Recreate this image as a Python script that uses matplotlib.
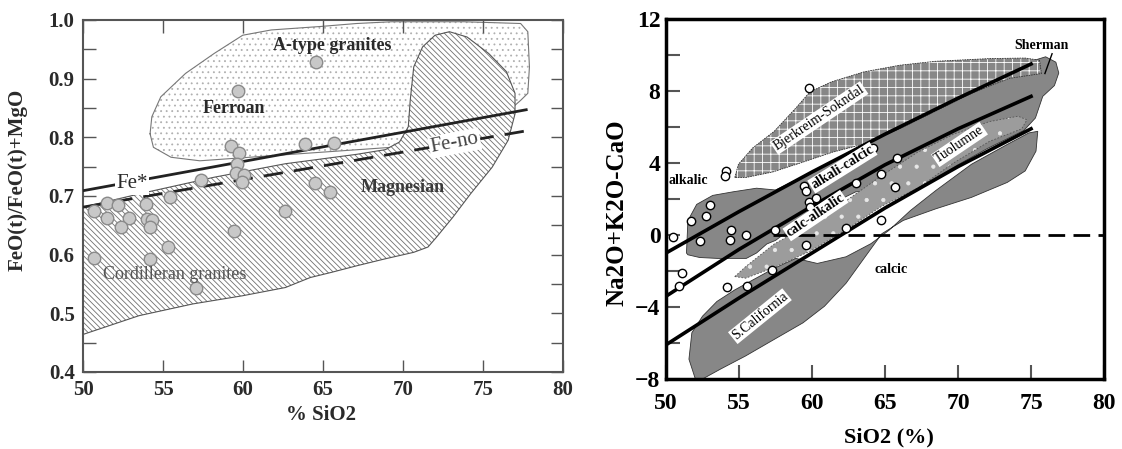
import numpy as np
import matplotlib.pyplot as plt
from matplotlib.patches import Polygon

plt.rcParams['font.family'] = ['Liberation Serif', 'DejaVu Serif']
plt.rcParams['hatch.linewidth'] = 0.6

BSL = chr(92)  # backslash, for the hatch pattern

# ---------------- left panel data (Fe-number diagram) ----------------
fe_star_x = [50, 77.7]
fe_star_y = [0.709, 0.847]
fe_no_x = [50, 77.7]
fe_no_y = [0.681, 0.811]

atype_x = [54.19, 54.3, 54.86, 56.41, 58.2, 59.98, 61.76, 64.88, 67.1, 69.3, 73.8, 77.35,
           77.8, 77.9, 77.8, 77.35, 73.8, 69.3, 60.4, 57.3, 55.5, 54.4]
atype_y = [0.806, 0.835, 0.869, 0.909, 0.943, 0.974, 0.983, 0.989, 0.994, 0.997, 0.997, 0.994,
           0.98, 0.92, 0.875, 0.863, 0.778, 0.783, 0.766, 0.76, 0.766, 0.783]

cord_x = [50, 53.74, 58.2, 62.65, 67.1, 68.9, 69.78, 70.33, 70.45, 70.67, 71.22, 72.0, 72.9,
          74.0, 75.35, 76.46, 77.0, 77.0, 76.57, 75.57, 74.23, 73.12, 72.1, 71.56, 70.67,
          68.9, 67.1, 65.55, 64.2, 62.65, 59.98, 56.86, 53.5, 50]
cord_y = [0.681, 0.705, 0.732, 0.755, 0.771, 0.779, 0.792, 0.818, 0.863, 0.920, 0.954, 0.974,
          0.98, 0.971, 0.943, 0.912, 0.875, 0.840, 0.795, 0.749, 0.704, 0.664, 0.630, 0.613,
          0.604, 0.593, 0.581, 0.570, 0.561, 0.544, 0.530, 0.516, 0.496, 0.464]

samp_sio2 = [64.54, 59.71, 59.27, 59.75, 59.64, 59.53, 60.09, 59.93, 63.88, 65.66, 57.35,
             55.41, 64.5, 65.43, 62.65, 59.42, 50.69, 51.47, 52.18, 51.47, 52.85, 52.4,
             53.92, 53.97, 54.3, 54.2, 55.3, 54.19, 50.67, 57.04]
samp_fe = [0.929, 0.879, 0.785, 0.773, 0.754, 0.739, 0.736, 0.724, 0.788, 0.790, 0.728,
           0.699, 0.722, 0.707, 0.674, 0.640, 0.674, 0.688, 0.685, 0.663, 0.663, 0.647,
           0.687, 0.661, 0.659, 0.647, 0.613, 0.593, 0.595, 0.544]

# ---------------- right panel data (MALI diagram) ----------------
mali_x = [50, 55, 60, 65, 70, 75]
alkalic_y = [-1.0, 1.3, 3.5, 5.6, 7.6, 9.5]
alkcalc_y = [-3.4, -0.8, 1.6, 3.9, 5.9, 7.7]
calcalk_y = [-6.1, -3.5, -1.0, 1.5, 3.8, 5.9]

bjerk_x = [54.71, 54.96, 55.94, 57.41, 58.89, 59.87, 61.34, 63.55, 66.0, 68.46, 72.15, 74.6,
           75.58, 75.71, 73.5, 71.0, 68.5, 66.0, 63.3, 61.4, 59.2, 57.3, 55.5]
bjerk_y = [3.19, 3.93, 4.84, 5.76, 7.05, 7.96, 8.51, 9.06, 9.43, 9.65, 9.80, 9.83,
           9.71, 8.97, 8.7, 7.9, 6.9, 5.9, 5.0, 4.6, 4.0, 3.5, 3.2]

sherman_x = [51.4, 51.5, 52.1, 53.2, 54.6, 56.2, 57.5, 60, 62, 64, 66, 68, 70, 72, 74, 75.2,
             76.0, 76.7, 76.9, 76.6, 75.8, 75.3, 74.5, 72, 70, 67.5, 65.5, 63, 60, 57.5,
             56.9, 56.2, 55.5, 53.5, 52.3, 51.5]
sherman_y = [-1.0, 0.8, 1.7, 2.2, 2.4, 2.6, 2.5, 3.5, 4.3, 5.2, 6.0, 6.8, 7.6, 8.4, 9.1, 9.7,
             9.9, 9.6, 9.0, 8.3, 7.7, 6.5, 5.8, 4.8, 3.9, 2.7, 2.5, 2.4, 1.2, -0.3,
             -0.5, -1.0, -1.3, -1.3, -1.25, -1.1]

tuol_x = [54.71, 55.45, 57.41, 59.87, 62.33, 64.78, 67.24, 69.69, 72.15, 74.11, 74.72,
          74.36, 72.15, 69.69, 67.24, 64.78, 62.33, 59.87, 57.41, 55.45]
tuol_y = [-2.31, -1.76, -0.5, 0.6, 1.9, 3.3, 4.6, 5.6, 6.3, 6.6, 6.4,
          5.9, 5.2, 4.0, 2.6, 1.6, 0.3, -0.9, -1.8, -2.4]

scal_x = [52.01, 51.57, 51.77, 52.5, 53.49, 54.71, 55.94, 57.41, 58.89, 60.36, 62.33, 64.04,
          65.27, 66.74, 68.46, 70.92, 73.37, 74.85, 75.46, 75.34, 74.6, 73.37, 70.92, 68.46,
          66.25, 64.78, 63.8, 62.33, 60.85, 59.38, 57.41, 55.45, 53.73, 52.5]
scal_y = [-8.0, -6.9, -5.43, -4.51, -3.69, -3.05, -2.5, -1.85, -1.3, -1.58, -1.21, -0.48,
          0.26, 1.36, 2.46, 3.93, 5.03, 5.67, 5.76, 4.66, 3.56, 2.92, 2.09, 1.45,
          0.81, 0.07, -1.03, -2.68, -3.96, -4.88, -5.8, -6.72, -7.45, -8.0]

mali_sio2 = [50.47, 51.72, 53.0, 52.75, 52.33, 54.47, 54.37, 55.5, 57.49, 54.1, 54.05, 59.8,
             59.45, 59.62, 59.8, 59.87, 60.29, 64.19, 65.84, 64.73, 63.01, 65.69, 62.33,
             64.73, 59.62, 57.24, 55.57, 54.17, 51.1, 50.86]
mali_val = [-0.11, 0.77, 1.69, 1.08, -0.33, 0.26, -0.29, -0.02, 0.26, 3.56, 3.28, 8.18,
            2.73, 2.42, 1.82, 1.54, 2.06, 4.84, 4.26, 3.38, 2.88, 2.68, 0.40,
            0.81, -0.53, -1.94, -2.83, -2.9, -2.09, -2.83]

fig = plt.figure(figsize=(11.22, 4.49), dpi=100)

# ===================== left =====================
ax = fig.add_axes([0.0740, 0.1715, 0.4278, 0.7840])
txt = '#2a2a2a'

ax.add_patch(Polygon(np.column_stack([atype_x, atype_y]), closed=True, facecolor='white',
                     edgecolor='#b0b0b0', hatch='...', lw=0, zorder=1))
ax.plot(atype_x + atype_x[:1], atype_y + atype_y[:1], color='#777777', lw=0.8, zorder=1.1)
ax.add_patch(Polygon(np.column_stack([cord_x, cord_y]), closed=True, facecolor='white',
                     edgecolor='#707070', hatch=BSL * 6, lw=0, zorder=2))
ax.plot(cord_x + cord_x[:1], cord_y + cord_y[:1], color='#555555', lw=0.8, zorder=2.1)

ax.plot(fe_star_x, fe_star_y, color='#222222', lw=2, zorder=3)
ax.plot(fe_no_x, fe_no_y, color='#222222', lw=2, dashes=(7, 4), zorder=3)
ax.plot(samp_sio2, samp_fe, 'o', ms=9, mfc='#c8c8c8', mec='#8a8a8a', mew=1, zorder=4)

ax.text(65.55, 0.957, 'A-type granites', ha='center', va='center', fontsize=13,
        fontweight='bold', color=txt, zorder=5)
ax.text(59.42, 0.849, 'Ferroan', ha='center', va='center', fontsize=13,
        fontweight='bold', color=txt, zorder=5)
ax.text(70.0, 0.715, 'Magnesian', ha='center', va='center', fontsize=13,
        fontweight='bold', color='#3a3a3a', zorder=5)
ax.text(55.75, 0.567, 'Cordilleran granites', ha='center', va='center', fontsize=13,
        color='#555555', zorder=5)
ax.text(53.07, 0.721, 'Fe*', ha='center', va='center', fontsize=15, color=txt, zorder=5,
        bbox=dict(fc='white', ec='none', pad=1))
ax.text(73.23, 0.79, 'Fe-no', ha='center', va='center', fontsize=15, color='#444444',
        rotation=11, zorder=5, bbox=dict(fc='white', ec='none', pad=1))

ax.set_xlim(50, 80)
ax.set_ylim(0.4, 1.0)
ax.set_xticks([50, 55, 60, 65, 70, 75, 80])
ax.set_yticks([0.4, 0.5, 0.6, 0.7, 0.8, 0.9, 1.0])
ax.set_yticks(np.arange(0.45, 1.0, 0.1), minor=True)
ax.set_yticklabels(['0.4', '0.5', '0.6', '0.7', '0.8', '0.9', '1.0'])
ax.tick_params(which='both', direction='in', length=9, width=1, color='#555555',
               top=True, right=True, labelsize=15, labelcolor=txt, pad=6)
for lab in ax.get_xticklabels() + ax.get_yticklabels():
    lab.set_fontweight('bold')
for s in ax.spines.values():
    s.set_color('#555555')
    s.set_linewidth(1.5)
ax.set_xlabel('% SiO2', fontsize=15, fontweight='bold', color=txt)
ax.set_ylabel('FeO(t)/FeO(t)+MgO', fontsize=15, fontweight='bold', color=txt)
ax.xaxis.set_label_coords(0.496, -0.095)
ax.yaxis.set_label_coords(-0.115, 0.545)

# ===================== right =====================
bx = fig.add_axes([0.5936, 0.1559, 0.3904, 0.8018])
gray = '#878787'

bx.add_patch(Polygon(np.column_stack([scal_x, scal_y]), closed=True, facecolor=gray,
                     edgecolor='#333333', lw=0.6, zorder=1))
bx.add_patch(Polygon(np.column_stack([sherman_x, sherman_y]), closed=True, facecolor=gray,
                     edgecolor='#333333', lw=0.6, zorder=1.2))
bx.add_patch(Polygon(np.column_stack([tuol_x, tuol_y]), closed=True, facecolor='#9c9c9c',
                     edgecolor='#e8e8e8', hatch='.', lw=0, zorder=1.5))
bx.plot(tuol_x + tuol_x[:1], tuol_y + tuol_y[:1], color='#555555', lw=0.6,
        dashes=(2, 2), zorder=1.6)
bx.add_patch(Polygon(np.column_stack([bjerk_x, bjerk_y]), closed=True, facecolor=gray,
                     edgecolor='white', hatch='++', lw=0, zorder=1.8))
bx.plot(bjerk_x + bjerk_x[:1], bjerk_y + bjerk_y[:1], color='#333333', lw=0.6,
        dashes=(2, 1), zorder=1.9)

bx.plot(mali_x, alkalic_y, color='black', lw=2.6, zorder=3)
bx.plot(mali_x, alkcalc_y, color='black', lw=2.6, zorder=3)
bx.plot(mali_x, calcalk_y, color='black', lw=2.6, zorder=3)
bx.plot([57.3, 80], [0, 0], color='black', lw=2, dashes=(6, 3), zorder=3)
bx.plot(mali_sio2, mali_val, 'o', ms=6, mfc='white', mec='black', mew=1, zorder=4)

box = dict(fc='white', ec='none', pad=0.8)
bx.text(51.5, 3.0, 'alkalic', ha='center', va='center', fontsize=10, fontweight='bold', zorder=5)
bx.text(65.4, -1.9, 'calcic', ha='center', va='center', fontsize=10, fontweight='bold', zorder=5)
bx.text(62.08, 3.74, 'alkali-calcic', ha='center', va='center', fontsize=10, fontweight='bold',
        rotation=32, bbox=box, zorder=5)
bx.text(60.24, 1.08, 'calc-alkalic', ha='center', va='center', fontsize=10, fontweight='bold',
        rotation=34, bbox=box, zorder=5)
bx.text(60.48, 6.5, 'Bjerkreim-Sokndal', ha='center', va='center', fontsize=10,
        rotation=34, bbox=box, zorder=5)
bx.text(70.1, 5.03, 'Tuolumne', ha='center', va='center', fontsize=10,
        rotation=34, bbox=box, zorder=5)
bx.text(56.43, -4.51, 'S.California', ha='center', va='center', fontsize=10,
        rotation=39, bbox=box, zorder=5)
bx.text(75.7, 10.55, 'Sherman', ha='center', va='center', fontsize=10, fontweight='bold', zorder=5)
bx.plot([76.44, 75.95], [10.07, 8.97], color='black', lw=1, zorder=5)

bx.set_xlim(50, 80)
bx.set_ylim(-8, 12)
bx.set_xticks([50, 55, 60, 65, 70, 75, 80])
bx.set_yticks([-8, -4, 0, 4, 8, 12])
bx.set_yticks([-6, -2, 2, 6, 10], minor=True)
bx.tick_params(which='both', direction='in', length=10, width=1.5, color='#555555',
               labelsize=17, pad=4)
bx.tick_params(axis='x', pad=10)
for lab in bx.get_xticklabels() + bx.get_yticklabels():
    lab.set_fontweight('bold')
for s in bx.spines.values():
    s.set_color('black')
    s.set_linewidth(2.5)
bx.set_xlabel('SiO2 (%)', fontsize=16, fontweight='bold')
bx.set_ylabel('Na2O+K2O-CaO', fontsize=18, fontweight='bold')
bx.xaxis.set_label_coords(0.509, -0.135)
bx.yaxis.set_label_coords(-0.085, 0.461)

fig.savefig('out.png', dpi=100)
